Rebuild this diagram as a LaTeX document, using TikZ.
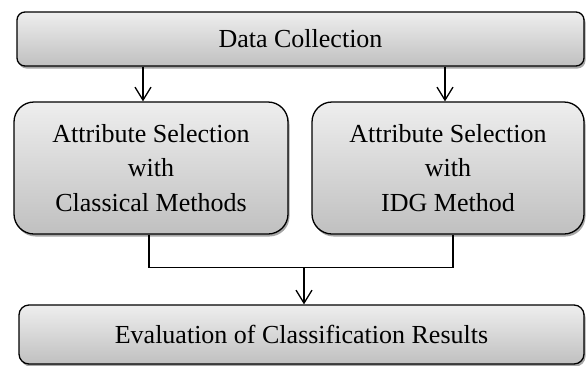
\documentclass[tikz,border=0pt]{standalone}
\usepackage{fontspec}
\setmainfont{Liberation Serif}
\usetikzlibrary{shadows,arrows.meta}
\definecolor{boxtop}{RGB}{238,238,238}
\definecolor{boxbot}{RGB}{192,192,192}
\tikzset{
  box/.style={draw=black, line width=1.3pt, top color=boxtop, bottom color=boxbot,
    drop shadow={shadow xshift=1.5pt, shadow yshift=-2.5pt, fill=black, opacity=0.35},
    align=center, inner sep=0pt, font=\fontsize{26}{34.5}\selectfont},
  wide/.style={box, rounded corners=8pt},
  mid/.style={box, rounded corners=20pt},
  conn/.style={draw=black, line width=1.3pt},
  arr/.style={conn, -{Straight Barb[length=13pt,width=16pt,line width=1.3pt]}},
}
\begin{document}
\begin{tikzpicture}[x=1pt,y=-1pt]
\useasboundingbox (0,0) rectangle (586,365);
\node[wide, minimum width=567pt, minimum height=54pt] (top) at (300.5,39) {Data Collection};
\node[mid, minimum width=274pt, minimum height=132pt] (left) at (151,168) {Attribute Selection\\with\\Classical Methods};
\node[mid, minimum width=272pt, minimum height=132pt] (right) at (448,168) {Attribute Selection\\with\\IDG Method};
\node[wide, rounded corners=10pt, minimum width=565pt, minimum height=59pt] (bot) at (301.5,334.5) {Evaluation of Classification Results};
\coordinate (la) at ([xshift=-8pt]left.north);
\coordinate (ra) at ([xshift=-3pt]right.north);
\draw[arr] (top.south -| la) -- (la);
\draw[arr] (top.south -| ra) -- (ra);
\coordinate (ls) at ([xshift=-2pt]left.south);
\coordinate (rs) at ([xshift=5pt]right.south);
\coordinate (bn) at ([xshift=2.5pt]bot.north);
\coordinate (j) at ([yshift=37pt]bn);
\draw[conn] (ls) |- (j) -| (rs);
\draw[arr] (j) -- (bn);
\end{tikzpicture}
\end{document}
